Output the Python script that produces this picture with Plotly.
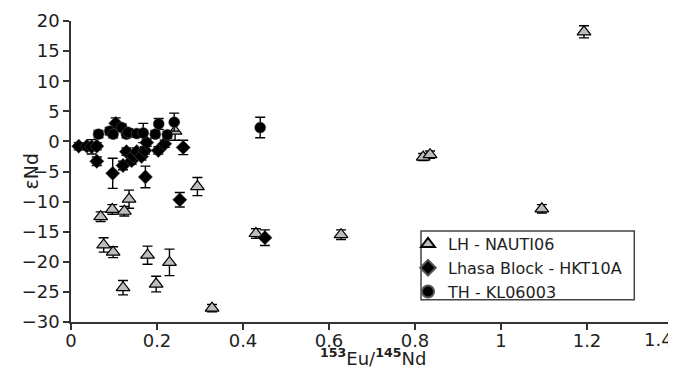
import plotly.graph_objects as go

# LH - NAUTI06 (triangles)
lh_x = [0.069, 0.076, 0.096, 0.098, 0.121, 0.124, 0.135, 0.178, 0.198, 0.229, 0.242, 0.294, 0.328, 0.430, 0.628, 0.819, 0.835, 1.095, 1.193]
lh_y = [-12.5, -17.2, -11.3, -18.4, -24.3, -11.6, -9.6, -18.9, -23.7, -20.1, 1.7, -7.5, -27.7, -15.3, -15.5, -2.6, -2.2, -11.2, 18.2]
lh_e = [0.8, 1.2, 0.8, 0.9, 1.2, 0.8, 1.5, 1.5, 1.3, 2.2, 1.5, 1.5, 0.6, 0.8, 0.8, 0.6, 0.6, 0.7, 1.0]

# Lhasa Block - HKT10A (diamonds)
lb_x = [0.018, 0.037, 0.048, 0.060, 0.060, 0.097, 0.104, 0.121, 0.129, 0.141, 0.145, 0.153, 0.164, 0.172, 0.173, 0.176, 0.203, 0.218, 0.253, 0.261, 0.451]
lb_y = [-0.8, -0.8, -0.9, -0.8, -3.3, -5.3, 3.0, -4.0, -1.7, -3.2, -2.4, -1.7, -2.5, -1.5, -5.9, -0.2, -1.5, -0.4, -9.7, -1.0, -16.0]
lb_e = [0.6, 0.6, 1.2, 0.6, 0.7, 2.5, 0.9, 0.7, 0.6, 0.6, 0.6, 0.6, 0.6, 0.6, 1.8, 0.6, 0.6, 0.6, 1.2, 1.2, 1.3]

# TH - KL06003 (circles)
th_x = [0.064, 0.090, 0.098, 0.118, 0.129, 0.133, 0.153, 0.168, 0.196, 0.204, 0.224, 0.240, 0.440]
th_y = [1.2, 1.7, 1.2, 2.3, 1.2, 1.5, 1.3, 1.4, 1.2, 2.9, 1.1, 3.2, 2.3]
th_e = [0.6, 0.6, 0.6, 0.6, 0.6, 0.6, 0.6, 1.6, 0.6, 0.9, 0.6, 1.5, 1.7]

x_ticks = [0, 0.2, 0.4, 0.6, 0.8, 1, 1.2, 1.4]
x_ticktext = ["0", "0.2", "0.4", "0.6", "0.8", "1", "1.2", "1.4"]
y_ticks = [-30, -25, -20, -15, -10, -5, 0, 5, 10, 15, 20]

FONT = "DejaVu Sans, Liberation Sans, Arial, sans-serif"
TXT = "#1e1e1e"

# the page body has an 8px margin, so the figure is drawn 8px smaller
W, H = 668, 375
L, R, T, B = 63, 3, 13, 61
PW, PH = W - L - R, H - T - B

def err(arr):
    return dict(type="data", array=arr, visible=True, color="black", thickness=1.4, width=5)

fig = go.Figure()
fig.add_trace(go.Scatter(x=lh_x, y=lh_y, mode="markers", name="LH - NAUTI06",
                         error_y=err(lh_e),
                         marker=dict(symbol="triangle-up", size=12, color="#bcbcbc",
                                     line=dict(color="black", width=1.2))))
fig.add_trace(go.Scatter(x=lb_x, y=lb_y, mode="markers", name="Lhasa Block - HKT10A",
                         error_y=err(lb_e),
                         marker=dict(symbol="diamond", size=11, color="black",
                                     line=dict(color="#555", width=0.5))))
fig.add_trace(go.Scatter(x=th_x, y=th_y, mode="markers", name="TH - KL06003",
                         error_y=err(th_e),
                         marker=dict(symbol="circle", size=11, color="black",
                                     line=dict(color="#555", width=0.5))))

axis_common = dict(showgrid=False, zeroline=False, showline=True, linecolor="#333",
                   linewidth=1.5, ticks="outside", ticklen=6, tickwidth=1.5,
                   tickcolor="#333", automargin=False,
                   tickfont=dict(family=FONT, size=18, color=TXT))

# last x tick label is nudged left (as in the reference) so it stays inside the page
shown_text = x_ticktext[:-1] + [""]

fig.update_layout(
    width=W, height=H,
    margin=dict(l=L, r=R, t=T, b=B),
    paper_bgcolor="white", plot_bgcolor="white",
    font=dict(family=FONT, color=TXT),
    xaxis=dict(range=[0, 1.4], tickvals=x_ticks, ticktext=shown_text,
               ticklabelstandoff=-4, **axis_common),
    yaxis=dict(range=[-30, 20], tickvals=y_ticks, **axis_common),
    legend=dict(x=(400 - L) / PW, y=(T + PH - 219) / PH, xanchor="left", yanchor="top",
                font=dict(family=FONT, size=16, color=TXT),
                bgcolor="rgba(0,0,0,0)", borderwidth=0, tracegroupgap=0,
                itemsizing="constant"),
    shapes=[dict(type="rect", xref="x", yref="y",
                 x0=0.814, x1=1.31, y0=-26.3, y1=-14.9,
                 line=dict(color="#444", width=1.5), fillcolor="white", layer="below")],
    annotations=[
        dict(text=x_ticktext[-1], xref="x", yref="paper", x=x_ticks[-1], y=0,
             xanchor="right", yanchor="top", xshift=2, yshift=-5, showarrow=False,
             font=dict(family=FONT, size=18, color=TXT)),
        dict(text="εNd", xref="paper", yref="paper", x=(22 - L) / PW, y=0.5,
             xanchor="center", yanchor="middle", textangle=-90, showarrow=False,
             font=dict(family=FONT, size=19, color=TXT)),
        dict(text="<sup><b>153</b></sup>Eu/<sup><b>145</b></sup>Nd", xref="paper", yref="paper",
             x=(365 - L) / PW, y=(T + PH - 349) / PH, xanchor="center", yanchor="middle",
             showarrow=False, font=dict(family=FONT, size=18, color=TXT)),
    ],
    showlegend=True,
)

fig.write_html("out.html")
